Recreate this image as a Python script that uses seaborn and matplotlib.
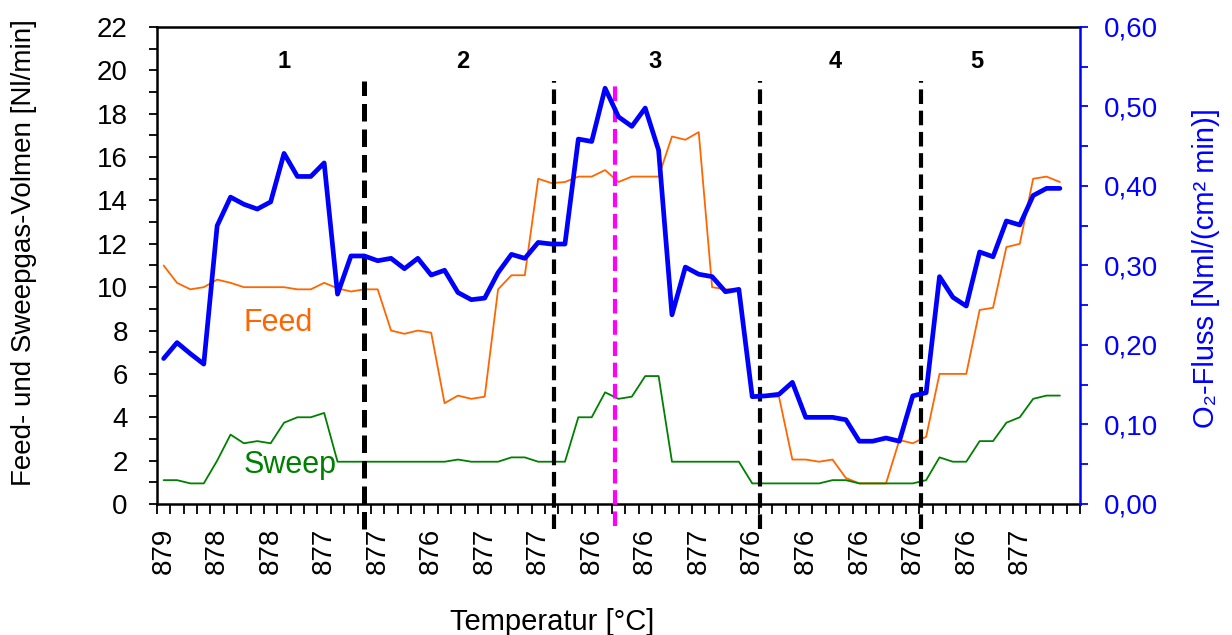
import numpy as np
import pandas as pd
import seaborn as sns
import matplotlib.pyplot as plt
from matplotlib.ticker import MultipleLocator, FixedLocator, FuncFormatter

feed = [11.0, 10.2, 9.9, 10.0, 10.35, 10.2, 10.0, 10.0, 10.0, 10.0, 9.9, 9.9, 10.2, 9.95,
        9.8, 9.9, 9.9, 8.0, 7.85, 8.0, 7.9, 4.65, 5.0, 4.85, 4.95, 9.9, 10.55, 10.55,
        15.0, 14.8, 14.85, 15.1, 15.1, 15.4, 14.85, 15.1, 15.1, 15.1, 16.95, 16.8, 17.15,
        10.0, 9.9, 9.9, 4.95, 4.95, 4.95, 2.05, 2.05, 1.95, 2.05, 1.2, 0.95, 0.95, 0.95,
        2.95, 2.8, 3.1, 6.0, 6.0, 6.0, 8.95, 9.05, 11.85, 12.0, 15.0, 15.1, 14.85]
sweep = [1.1, 1.1, 0.95, 0.95, 2.0, 3.2, 2.8, 2.9, 2.8, 3.75, 4.0, 4.0, 4.2, 1.95,
         1.95, 1.95, 1.95, 1.95, 1.95, 1.95, 1.95, 1.95, 2.05, 1.95, 1.95, 1.95, 2.15, 2.15,
         1.95, 1.95, 1.95, 4.0, 4.0, 5.15, 4.85, 4.95, 5.9, 5.9, 1.95, 1.95, 1.95,
         1.95, 1.95, 1.95, 0.95, 0.95, 0.95, 0.95, 0.95, 0.95, 1.1, 1.1, 0.95, 0.95, 0.95,
         0.95, 0.95, 1.1, 2.15, 1.95, 1.95, 2.9, 2.9, 3.75, 4.0, 4.85, 5.0, 5.0]
o2_flux = [0.183, 0.203, 0.189, 0.176, 0.350, 0.386, 0.377, 0.371, 0.380, 0.441, 0.412, 0.412,
           0.429, 0.264, 0.312, 0.312, 0.306, 0.309, 0.296, 0.309, 0.288, 0.294, 0.266, 0.257,
           0.259, 0.291, 0.314, 0.309, 0.329, 0.327, 0.327, 0.459, 0.456, 0.523, 0.487, 0.475,
           0.498, 0.445, 0.238, 0.298, 0.289, 0.286, 0.267, 0.270, 0.135, 0.136, 0.138, 0.153,
           0.109, 0.109, 0.109, 0.106, 0.079, 0.079, 0.083, 0.079, 0.136, 0.140, 0.286, 0.260,
           0.249, 0.317, 0.311, 0.356, 0.351, 0.388, 0.397, 0.397]

# temperature labels shown on every 4th row
temp_labels = ['879', '878', '878', '877', '877', '876', '877', '877', '876', '876',
               '877', '876', '876', '876', '876', '876', '877']

# phase boundaries (in row units) and phase numbers
phase_bounds = [15.0, 29.2, 44.55, 56.6]
marker_line = 33.75
phase_names = ['1', '2', '3', '4', '5']
phase_centers = [9.0, 22.35, 36.7, 50.2, 60.8]

df = pd.DataFrame({'row': np.arange(len(feed)), 'Feed': feed, 'Sweep': sweep, 'O2': o2_flux})

sns.set_style('ticks')
plt.rcParams['font.family'] = ['Liberation Sans', 'DejaVu Sans']
plt.rcParams['text.color'] = 'black'
plt.rcParams['axes.labelcolor'] = 'black'
plt.rcParams['xtick.color'] = 'black'
plt.rcParams['ytick.color'] = 'black'

fig = plt.figure(figsize=(12.32, 6.35), dpi=100)
ax = fig.add_axes([0.1274, 0.2063, 0.7492, 0.7512])
ax2 = ax.twinx()

sns.lineplot(data=df, x='row', y='Feed', ax=ax, color='#FF6600', linewidth=1.3)
sns.lineplot(data=df, x='row', y='Sweep', ax=ax, color='#008000', linewidth=1.3)
sns.lineplot(data=df, x='row', y='O2', ax=ax2, color='#0000FF', linewidth=3.4)

ax.set_xlim(-0.5, 68.5)
ax.set_ylim(0, 22)
ax2.set_ylim(0, 0.6)

# dashed phase boundaries, running below the axis like in the original
for i, xb in enumerate(phase_bounds):
    ax.vlines(xb, -1.15, 19.5, colors='black', linewidth=3.6 if i == 0 else 3.0,
              linestyles=(0, (3.5, 1.6)), clip_on=False, zorder=5)
ax.vlines(marker_line, -1.0, 19.5, colors='#FF00FF', linewidth=3.0,
          linestyles=(0, (3.5, 1.6)), clip_on=False, zorder=5)

for name, xc in zip(phase_names, phase_centers):
    ax.text(xc, 20.4, name, ha='center', va='center', fontsize=17, fontweight='bold',
            color='black')

ax.text(6.0, 8.0, 'Feed', color='#FF6600', fontsize=22, va='baseline')
ax.text(6.0, 1.43, 'Sweep', color='#008000', fontsize=22, va='baseline')

# x axis: labels every 4th row, ticks between rows
ax.xaxis.set_major_locator(FixedLocator(np.arange(0, 4 * len(temp_labels), 4)))
ax.set_xticklabels(temp_labels, rotation=90)
ax.xaxis.set_minor_locator(FixedLocator(np.arange(-0.5, 69, 1)))
ax.tick_params(axis='x', which='major', length=0, pad=17, labelsize=20, colors='black')
ax.tick_params(axis='x', which='minor', length=7, width=1.3, direction='out', colors='black')

ax.yaxis.set_major_locator(MultipleLocator(2))
ax.yaxis.set_minor_locator(MultipleLocator(1))
ax.tick_params(axis='y', which='both', length=6, width=1.3, direction='out', labelsize=20,
               pad=15, colors='black')

ax2.yaxis.set_major_locator(MultipleLocator(0.1))
ax2.yaxis.set_minor_locator(MultipleLocator(0.05))
ax2.yaxis.set_major_formatter(FuncFormatter(lambda v, p: f'{v:.2f}'.replace('.', ',')))
ax2.tick_params(axis='y', which='both', length=6, width=1.3, direction='out', labelsize=20,
                pad=11, colors='#0000FF')

for side in ['left', 'top', 'bottom']:
    ax.spines[side].set_linewidth(1.8)
    ax.spines[side].set_color('black')
for side in ['left', 'top', 'bottom']:
    ax2.spines[side].set_visible(False)
ax2.spines['right'].set_color('#0000FF')
ax2.spines['right'].set_linewidth(1.8)
ax.spines['right'].set_visible(False)
ax.grid(False)
ax2.grid(False)

ax.set_xlabel('Temperatur [°C]', fontsize=21, color='black')
ax.xaxis.set_label_coords((552 - 157) / 923, -104 / 477)
ax.set_ylabel('Feed- und Sweepgas-Volmen [Nl/min]', fontsize=20, color='black')
ax.yaxis.set_label_coords(-120 / 923, 0.528)
ax2.set_ylabel('O\u2082-Fluss [Nml/(cm² min)]', fontsize=21, color='#0000FF')
ax2.yaxis.set_label_coords(1 + 112 / 923, 0.495)

fig.savefig('out.png', dpi=100)
